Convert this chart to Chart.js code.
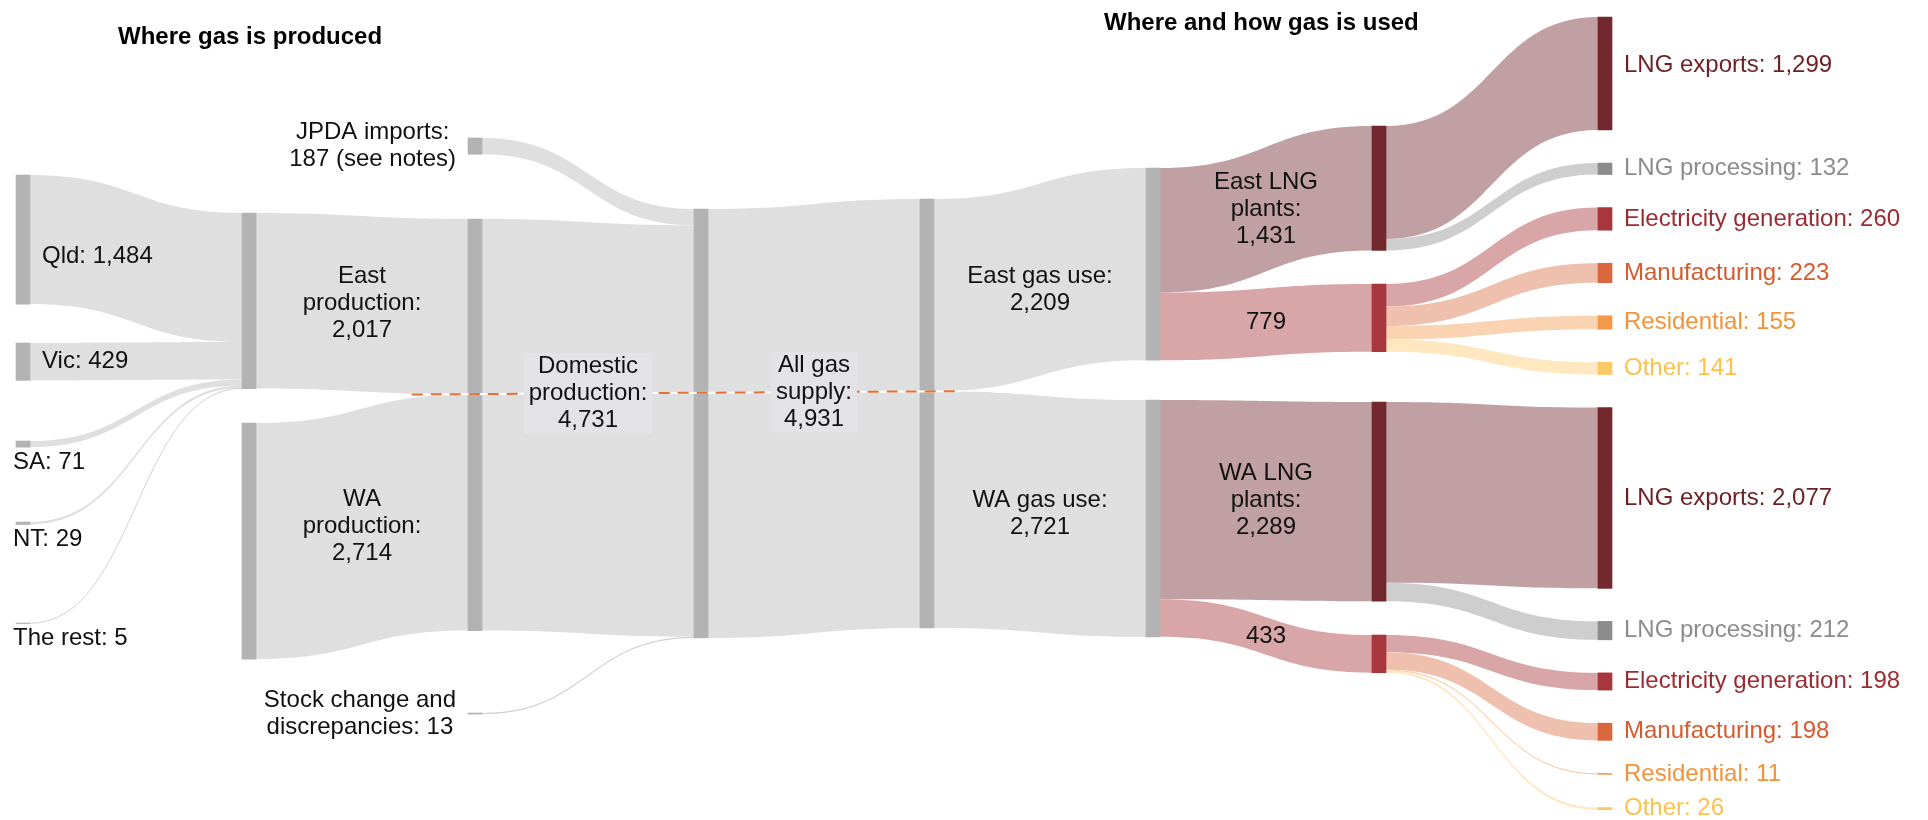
<!DOCTYPE html>
<html lang="en">
<head>
<meta charset="UTF-8">
<title>Australian gas production and use</title>
<script src="https://cdn.jsdelivr.net/npm/chart.js@4.4.1/dist/chart.umd.min.js"></script>
<style>
  html, body { margin: 0; padding: 0; background: #fff; }
  #wrap { width: 1928px; height: 820px; position: relative; }
</style>
</head>
<body>
<div id="wrap"><canvas id="sankey"></canvas></div>
<script>
// --- data (PJ) ---
const stateNames = ['Qld', 'Vic', 'SA', 'NT', 'The rest'];
const stateProduction = [1484, 429, 71, 29, 5];       // all of it is east production
const regionNames = ['East', 'WA'];
const regionProduction = [2017, 2714];
const domesticProduction = 4731;
const jpdaImports = 187;
const stockChange = 13;
const allGasSupply = 4931;
const regionGasUse = [2209, 2721];
const lngPlantGas = [1431, 2289];
const domesticGasUse = [779, 433];
const lngExports = [1299, 2077];
const lngProcessing = [132, 212];
const useCategories = ['Electricity generation', 'Manufacturing', 'Residential', 'Other'];
const eastUse = [260, 223, 155, 141];
const waUse = [198, 198, 11, 26];
const regionUse = [eastUse, waUse];

// --- look ---
const FONT = '24px "Liberation Sans", Arial, sans-serif';
const FONT_BOLD = 'bold 24px "Liberation Sans", Arial, sans-serif';
const LINE_H = 27;
const NODE_W = 14;
const COL_STEP = 226;          // px between node columns
const FIRST_COL = 23;          // px, centre of the first column
const X_MIN = -FIRST_COL / COL_STEP;
const X_MAX = (1928 - FIRST_COL) / COL_STEP;
const Y_MAX = 9425;            // PJ spanned by the canvas height
const GAP = 380;               // default space between nodes, PJ

const C = {
  greyNode: '#b3b3b3', greyLink: '#dfdfdf', greyThin: '#d2d2d2',
  lngNode: '#72282d', lngLink: '#c0a0a2', lngText: '#6d1f24',
  domNode: '#a8373d', domLink: '#d9a6a8',
  procNode: '#8c8c8c', procLink: '#cecece', procText: '#8c8c8c',
  text: '#111111', dash: '#e2703a', box: '#e3e2e4'
};
const useNodeColors = ['#a8373d', '#d9683f', '#f4984a', '#fdc967'];
const useLinkColors = ['#d9a6a8', '#efc0ae', '#fad3b3', '#ffe7c0'];
const useThinColors = ['#d9a6a8', '#eeb69f', '#f8c39a', '#fed58c'];
const useTextColors = ['#9b2b32', '#d65a2c', '#f49238', '#fcc14f'];

const fmt = v => v.toLocaleString('en-US');

// --- build the graph ---
const nodes = [];
const nodeById = {};
const links = [];
const labels = [];

function addNode(id, col, color, gap) {
  const n = { id, col, color, gap, ins: [], outs: [] };
  nodes.push(n);
  nodeById[id] = n;
  return n;
}
function addLink(from, to, value, color, thin) {
  const l = { source: nodeById[from], target: nodeById[to], value, color, thin: thin || color };
  l.source.outs.push(l);
  l.target.ins.push(l);
  links.push(l);
  return l;
}

const stateGaps = [2011, 448, 697, 860, 1132];
stateNames.forEach((name, i) => {
  addNode('state' + i, 0, C.greyNode, stateGaps[i]);
  labels.push({ node: 'state' + i, mode: i < 2 ? 'right' : 'below',
    lines: [name + ': ' + fmt(stateProduction[i])], dy: i === 0 ? 17 : 0 });
});
addNode('prodEast', 1, C.greyNode, 2448);
addNode('prodWA', 1, C.greyNode, 396);
addNode('jpda', 2, C.greyNode, 1586);
addNode('domestic', 2, C.greyNode, 744);
addNode('stock', 2, C.greyNode, 947);
addNode('supply', 3, C.greyNode, 2402);
addNode('supplyOut', 4, C.greyNode, 2287);

stateProduction.forEach((v, i) => addLink('state' + i, 'prodEast', v, C.greyLink, C.greyThin));
const lProdEast = addLink('prodEast', 'domestic', regionProduction[0], C.greyLink);
const lProdWA = addLink('prodWA', 'domestic', regionProduction[1], C.greyLink);
addLink('jpda', 'supply', jpdaImports, C.greyLink, C.greyThin);
const lDomestic = addLink('domestic', 'supply', domesticProduction, C.greyLink);
addLink('stock', 'supply', stockChange, C.greyLink, C.greyThin);
const lSupply = addLink('supply', 'supplyOut', allGasSupply, C.greyLink);

labels.push({ link: lProdEast, mode: 'link', lines: ['East', 'production:', fmt(regionProduction[0])] });
labels.push({ link: lProdWA, mode: 'link', lines: ['WA', 'production:', fmt(regionProduction[1])] });
labels.push({ link: lDomestic, mode: 'dash', lines: ['Domestic', 'production:', fmt(domesticProduction)] });
labels.push({ link: lSupply, mode: 'dash', lines: ['All gas', 'supply:', fmt(allGasSupply)] });
labels.push({ node: 'jpda', mode: 'left', lines: ['JPDA imports:', fmt(jpdaImports) + ' (see notes)'] });
labels.push({ node: 'stock', mode: 'left', lines: ['Stock change and', 'discrepancies: ' + fmt(stockChange)] });

const useGaps = [1931, 457];
const lngGaps = [1448, 578];
const domGaps = [385, 389];
const expGaps = [195, GAP];
regionNames.forEach((r, i) => {
  addNode('use' + r, 5, C.greyNode, useGaps[i]);
  addNode('lng' + r, 6, C.lngNode, lngGaps[i]);
  addNode('dom' + r, 6, C.domNode, domGaps[i]);
  addNode('exp' + r, 7, C.lngNode, expGaps[i]);
  addNode('proc' + r, 7, C.procNode, GAP);
  useCategories.forEach((u, j) => addNode('end' + j + r, 7, useNodeColors[j], GAP));

  const lUse = addLink('supplyOut', 'use' + r, regionGasUse[i], C.greyLink);
  const lLng = addLink('use' + r, 'lng' + r, lngPlantGas[i], C.lngLink);
  const lDom = addLink('use' + r, 'dom' + r, domesticGasUse[i], C.domLink);
  addLink('lng' + r, 'exp' + r, lngExports[i], C.lngLink);
  addLink('lng' + r, 'proc' + r, lngProcessing[i], C.procLink);
  regionUse[i].forEach((v, j) => addLink('dom' + r, 'end' + j + r, v, useLinkColors[j], useThinColors[j]));

  labels.push({ link: lUse, mode: 'link', lines: [r + ' gas use:', fmt(regionGasUse[i])], dy: i === 0 ? 10 : 0 });
  labels.push({ link: lLng, mode: 'link', lines: [r + ' LNG', 'plants:', fmt(lngPlantGas[i])] });
  labels.push({ link: lDom, mode: 'link', lines: [fmt(domesticGasUse[i])] });
  labels.push({ node: 'exp' + r, mode: 'right', color: C.lngText, dy: i === 0 ? -8 : 0,
    lines: ['LNG exports: ' + fmt(lngExports[i])] });
  labels.push({ node: 'proc' + r, mode: 'right', color: C.procText,
    lines: ['LNG processing: ' + fmt(lngProcessing[i])] });
  useCategories.forEach((u, j) => labels.push({ node: 'end' + j + r, mode: 'right',
    color: useTextColors[j], lines: [u + ': ' + fmt(regionUse[i][j])] }));
});

// --- layout in PJ units: stack each column, then stack links on each node ---
const sum = arr => arr.reduce((s, l) => s + l.value, 0);
nodes.forEach(n => { n.value = Math.max(sum(n.ins), sum(n.outs)); });
const colBottom = {};
nodes.forEach(n => {
  n.top = (colBottom[n.col] || 0) + n.gap;
  colBottom[n.col] = n.top + n.value;
});
nodes.forEach(n => {
  let y = n.top;
  [...n.outs].sort((a, b) => a.target.top - b.target.top).forEach(l => { l.y0 = y; y += l.value; });
  y = n.top;
  [...n.ins].sort((a, b) => a.source.top - b.source.top).forEach(l => { l.y1 = y; y += l.value; });
});

// the east / west divider running through the combined nodes
const dashLine = {
  fromCol: 1.72, toCol: 4.15,
  fromY: nodeById.domestic.top + regionProduction[0],
  toY: nodeById.supplyOut.top + regionGasUse[0]
};

function ribbon(ctx, x0, a0, b0, x1, a1, b1) {
  const xm = (x0 + x1) / 2;
  ctx.beginPath();
  ctx.moveTo(x0, a0);
  ctx.bezierCurveTo(xm, a0, xm, a1, x1, a1);
  ctx.lineTo(x1, b1);
  ctx.bezierCurveTo(xm, b1, xm, b0, x0, b0);
  ctx.closePath();
  ctx.fill();
}

function drawLines(ctx, lines, x, y, align, color, box) {
  ctx.font = FONT;
  ctx.textAlign = align;
  ctx.textBaseline = 'middle';
  const h = LINE_H * lines.length;
  if (box) {
    const w = Math.max(...lines.map(t => ctx.measureText(t).width));
    ctx.fillStyle = box;
    ctx.fillRect(x - w / 2 - 5, y - h / 2, w + 10, h);
  }
  ctx.fillStyle = color;
  lines.forEach((t, i) => ctx.fillText(t, x, y - h / 2 + LINE_H / 2 + i * LINE_H));
}

const sankeyPlugin = {
  id: 'sankeyFlows',
  beforeDatasetsDraw(chart) {
    const { ctx, scales: { x, y } } = chart;
    ctx.save();
    links.forEach(l => {
      const x0 = x.getPixelForValue(l.source.col) + NODE_W / 2;
      const x1 = x.getPixelForValue(l.target.col) - NODE_W / 2;
      const a0 = y.getPixelForValue(l.y0), b0 = y.getPixelForValue(l.y0 + l.value);
      const a1 = y.getPixelForValue(l.y1), b1 = y.getPixelForValue(l.y1 + l.value);
      if (b0 - a0 < 1.5) {
        const m0 = (a0 + b0) / 2, m1 = (a1 + b1) / 2, xm = (x0 + x1) / 2;
        ctx.strokeStyle = l.thin;
        ctx.lineWidth = Math.max(1, b0 - a0);
        ctx.beginPath();
        ctx.moveTo(x0 - NODE_W, m0);
        ctx.lineTo(x0, m0);
        ctx.bezierCurveTo(xm, m0, xm, m1, x1, m1);
        ctx.stroke();
      } else {
        ctx.fillStyle = l.color;
        ribbon(ctx, x0, a0, b0, x1, a1, b1);
      }
    });
    ctx.restore();
  },
  afterDatasetsDraw(chart) {
    const { ctx, scales: { x, y } } = chart;
    ctx.save();

    const dx0 = x.getPixelForValue(dashLine.fromCol), dx1 = x.getPixelForValue(dashLine.toCol);
    const dy0 = y.getPixelForValue(dashLine.fromY), dy1 = y.getPixelForValue(dashLine.toY);
    const dashY = px => dy0 + (dy1 - dy0) * (px - dx0) / (dx1 - dx0);
    ctx.lineWidth = 2;
    ctx.strokeStyle = '#ffffff';
    ctx.beginPath(); ctx.moveTo(dx0, dy0); ctx.lineTo(dx1, dy1); ctx.stroke();
    ctx.setLineDash([11, 8]);
    ctx.strokeStyle = C.dash;
    ctx.beginPath(); ctx.moveTo(dx0, dy0); ctx.lineTo(dx1, dy1); ctx.stroke();
    ctx.setLineDash([]);

    labels.forEach(lb => {
      const color = lb.color || C.text;
      const dy = lb.dy || 0;
      if (lb.node) {
        const n = nodeById[lb.node];
        const cx = x.getPixelForValue(n.col);
        const top = y.getPixelForValue(n.top), bot = y.getPixelForValue(n.top + n.value);
        if (lb.mode === 'right') {
          drawLines(ctx, lb.lines, cx + NODE_W / 2 + 12, (top + bot) / 2 + dy, 'left', color);
        } else if (lb.mode === 'below') {
          drawLines(ctx, lb.lines, cx - NODE_W / 2 - 3, bot + 15 + dy, 'left', color);
        } else {
          ctx.font = FONT;
          const w = Math.max(...lb.lines.map(t => ctx.measureText(t).width));
          drawLines(ctx, lb.lines, cx - NODE_W / 2 - 12 - w / 2, (top + bot) / 2 + dy, 'center', color);
        }
      } else {
        const l = lb.link;
        const lx = (x.getPixelForValue(l.source.col) + x.getPixelForValue(l.target.col)) / 2;
        if (lb.mode === 'dash') {
          drawLines(ctx, lb.lines, lx, dashY(lx) + dy, 'center', color, C.box);
        } else {
          const ly = (y.getPixelForValue(l.y0 + l.value / 2) + y.getPixelForValue(l.y1 + l.value / 2)) / 2;
          drawLines(ctx, lb.lines, lx, ly + dy, 'center', color);
        }
      }
    });

    ctx.font = FONT_BOLD;
    ctx.fillStyle = '#000';
    ctx.textAlign = 'left';
    ctx.textBaseline = 'alphabetic';
    ctx.fillText('Where gas is produced', 118, 44);
    ctx.fillText('Where and how gas is used', 1104, 30);
    ctx.restore();
  }
};

new Chart(document.getElementById('sankey'), {
  type: 'bar',
  data: {
    datasets: [{
      data: nodes.map(n => ({ x: n.col, y: [n.top, n.top + n.value] })),
      backgroundColor: nodes.map(n => n.color),
      barThickness: NODE_W,
      borderWidth: 0,
      borderSkipped: false
    }]
  },
  options: {
    responsive: true,
    maintainAspectRatio: false,
    animation: false,
    events: [],
    layout: { padding: 0 },
    plugins: { legend: { display: false }, tooltip: { enabled: false } },
    scales: {
      x: { type: 'linear', min: X_MIN, max: X_MAX, offset: false, display: false },
      y: { type: 'linear', min: 0, max: Y_MAX, reverse: true, display: false }
    }
  },
  plugins: [sankeyPlugin]
});
</script>
</body>
</html>
